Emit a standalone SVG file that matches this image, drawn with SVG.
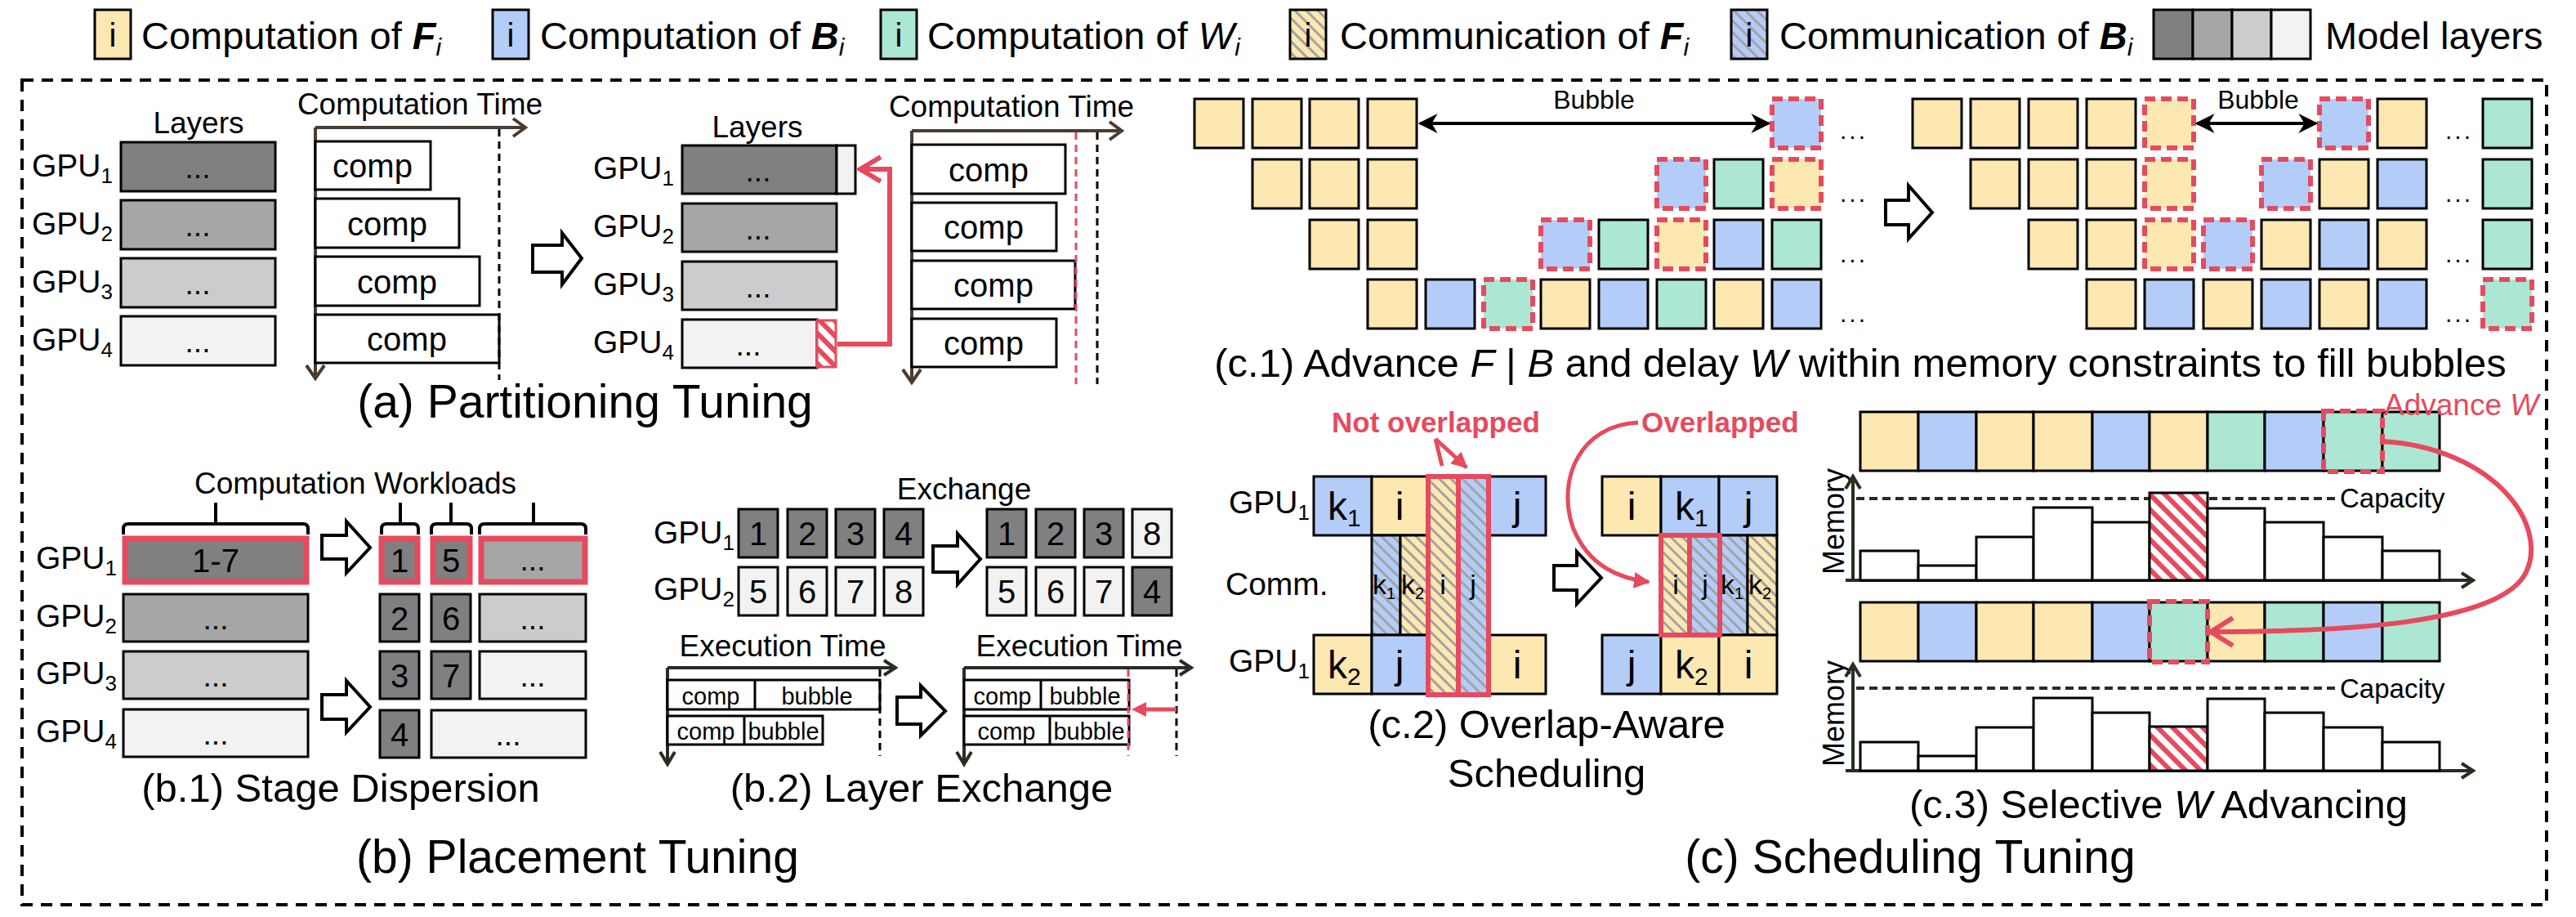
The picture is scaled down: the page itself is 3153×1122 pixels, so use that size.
<svg xmlns="http://www.w3.org/2000/svg" width="3153" height="1122" viewBox="0 0 3153 1122">
<style>
text { font-family: 'Liberation Sans', Arial, sans-serif; fill:#000; }
.lg { font-size:47px; }
.lbl { font-size:39px; }
.sm { font-size:37px; }
.cap { font-size:49px; text-anchor:middle; }
.title { font-size:57px; text-anchor:middle; }
.mid { text-anchor:middle; }
.bx { stroke:#000; stroke-width:3; }
.F { fill:#fde8b1; } .B { fill:#b4cdf8; } .W { fill:#ace7d3; }
.g1 { fill:#808080; } .g2 { fill:#a6a6a6; } .g3 { fill:#cccccc; } .g4 { fill:#f2f2f2; } .wh { fill:#fff; }
.hF { fill:url(#hatchF); } .hB { fill:url(#hatchB); } .hR { fill:url(#hatchR); }
.rd { fill:none; stroke:#e64a5e; stroke-width:6; stroke-dasharray:13 7; }
.rs { fill:none; stroke:#e64a5e; stroke-width:6; }
.ax { fill:none; stroke:#4a3c31; stroke-width:4; }
.ax2 { fill:none; stroke:#262e22; stroke-width:4; }
.dash { fill:none; stroke:#000; stroke-width:3; stroke-dasharray:9 6; }
.rdash { fill:none; stroke:#e64a5e; stroke-width:3; stroke-dasharray:9 6; }
.blk { fill:#fff; stroke:#000; stroke-width:4; }
.red { fill:#e64a5e; }
.dots { font-size:30px; letter-spacing:3px; }
</style>
<defs>
<pattern id="hatchF" width="10" height="10" patternUnits="userSpaceOnUse" patternTransform="rotate(-45)"><rect width="10" height="10" fill="#fde8b1"/><rect width="3" height="10" fill="#a3a3a3"/></pattern>
<pattern id="hatchB" width="10" height="10" patternUnits="userSpaceOnUse" patternTransform="rotate(-45)"><rect width="10" height="10" fill="#b4cdf8"/><rect width="3" height="10" fill="#a3a3a3"/></pattern>
<pattern id="hatchR" width="13" height="13" patternUnits="userSpaceOnUse" patternTransform="rotate(-45)"><rect width="13" height="13" fill="#fff"/><rect width="6" height="13" fill="#e64a5e"/></pattern>
<marker id="ah" viewBox="0 0 10 10" refX="9" refY="5" markerWidth="6" markerHeight="6" orient="auto-start-reverse" markerUnits="strokeWidth"><path d="M0,0 L10,5 L0,10 L3,5 z" fill="#000"/></marker>
<marker id="ahr" viewBox="0 0 10 10" refX="9" refY="5" markerWidth="4" markerHeight="4" orient="auto" markerUnits="strokeWidth"><path d="M0,0 L10,5 L0,10 z" fill="#e64a5e"/></marker>
</defs>

<rect x="27" y="98" width="3090" height="1009" fill="none" stroke="#000" stroke-width="4" stroke-dasharray="14 10"/>

<g id="legend">
<rect class="bx F" x="116" y="12" width="44" height="60"/><text class="mid" x="138" y="57" font-size="40">i</text>
<text class="lg" x="173" y="60">Computation of <tspan font-weight="bold" font-style="italic">F</tspan><tspan font-style="italic" font-size="30" dy="8">i</tspan></text>
<rect class="bx B" x="603" y="12" width="44" height="60"/><text class="mid" x="625" y="57" font-size="40">i</text>
<text class="lg" x="661" y="60">Computation of <tspan font-weight="bold" font-style="italic">B</tspan><tspan font-style="italic" font-size="30" dy="8">i</tspan></text>
<rect class="bx W" x="1078" y="12" width="44" height="60"/><text class="mid" x="1100" y="57" font-size="40">i</text>
<text class="lg" x="1135" y="60">Computation of <tspan font-style="italic">W</tspan><tspan font-style="italic" font-size="30" dy="8">i</tspan></text>
<rect class="bx hF" x="1579" y="12" width="44" height="60"/><text class="mid" x="1601" y="57" font-size="40">i</text>
<text class="lg" x="1640" y="60">Communication of <tspan font-weight="bold" font-style="italic">F</tspan><tspan font-style="italic" font-size="30" dy="8">i</tspan></text>
<rect class="bx hB" x="2119" y="12" width="44" height="60"/><text class="mid" x="2141" y="57" font-size="40">i</text>
<text class="lg" x="2178" y="60">Communication of <tspan font-weight="bold" font-style="italic">B</tspan><tspan font-style="italic" font-size="30" dy="8">i</tspan></text>
<rect class="bx g1" x="2636" y="12" width="48" height="60"/><rect class="bx g2" x="2684" y="12" width="48" height="60"/><rect class="bx g3" x="2732" y="12" width="48" height="60"/><rect class="bx g4" x="2780" y="12" width="48" height="60"/>
<text class="lg" x="2846" y="60">Model layers</text>
</g>

<g id="a-partitioning">
<text class="sm mid" x="243" y="163">Layers</text>
<text class="lbl" x="39" y="216">GPU<tspan font-size="26" dy="8">1</tspan></text>
<text class="lbl" x="39" y="287">GPU<tspan font-size="26" dy="8">2</tspan></text>
<text class="lbl" x="39" y="358">GPU<tspan font-size="26" dy="8">3</tspan></text>
<text class="lbl" x="39" y="429">GPU<tspan font-size="26" dy="8">4</tspan></text>
<rect class="bx g1" x="148" y="174" width="189" height="60"/><rect class="bx g2" x="148" y="245" width="189" height="60"/><rect class="bx g3" x="148" y="316" width="189" height="60"/><rect class="bx g4" x="148" y="387" width="189" height="60"/>
<text class="sm mid" x="242" y="218">...</text><text class="sm mid" x="242" y="289">...</text><text class="sm mid" x="242" y="360">...</text><text class="sm mid" x="242" y="431">...</text>
<text class="sm mid" x="514" y="140">Computation Time</text>
<path class="ax" d="M386 156 H641 M628 145 L643 156 L628 167 M386 156 V461 M375 447 L386 463 L397 447"/>
<rect class="bx wh" x="386" y="173" width="141" height="59"/><text class="mid" font-size="40" x="456" y="217">comp</text>
<rect class="bx wh" x="386" y="243" width="176" height="60"/><text class="mid" font-size="40" x="474" y="288">comp</text>
<rect class="bx wh" x="386" y="314" width="201" height="60"/><text class="mid" font-size="40" x="486" y="359">comp</text>
<rect class="bx wh" x="386" y="385" width="225" height="59"/><text class="mid" font-size="40" x="498" y="429">comp</text>
<path class="dash" d="M611 158 V465"/>
<polygon class="blk" points="652,300 688,300 688,285 712,316 688,348 688,333 652,333"/>
<text class="sm mid" x="927" y="168">Layers</text>
<text class="lbl" x="726" y="219">GPU<tspan font-size="26" dy="8">1</tspan></text>
<text class="lbl" x="726" y="290">GPU<tspan font-size="26" dy="8">2</tspan></text>
<text class="lbl" x="726" y="361">GPU<tspan font-size="26" dy="8">3</tspan></text>
<text class="lbl" x="726" y="432">GPU<tspan font-size="26" dy="8">4</tspan></text>
<rect class="bx g1" x="835" y="178" width="189" height="59"/><rect class="bx g4" x="1024" y="178" width="23" height="59"/>
<rect class="bx g2" x="835" y="249" width="189" height="59"/>
<rect class="bx g3" x="835" y="320" width="189" height="59"/>
<rect class="bx g4" x="835" y="391" width="165" height="59"/>
<rect x="1000" y="392" width="23" height="57" fill="url(#hatchR)" stroke="#e64a5e" stroke-width="3"/>
<text class="sm mid" x="928" y="222">...</text><text class="sm mid" x="928" y="293">...</text><text class="sm mid" x="928" y="364">...</text><text class="sm mid" x="916" y="435">...</text>
<path class="rs" d="M1025 421 H1089 V207 H1054 M1078 192 L1053 207 L1078 222" stroke-width="5"/>
<text class="sm mid" x="1238" y="143">Computation Time</text>
<path class="ax" d="M1116 160 H1371 M1358 149 L1373 160 L1358 171 M1116 160 V466 M1105 452 L1116 468 L1127 452"/>
<rect class="bx wh" x="1116" y="177" width="188" height="60"/><text class="mid" font-size="40" x="1210" y="222">comp</text>
<rect class="bx wh" x="1116" y="248" width="177" height="59"/><text class="mid" font-size="40" x="1204" y="292">comp</text>
<rect class="bx wh" x="1116" y="319" width="200" height="59"/><text class="mid" font-size="40" x="1216" y="363">comp</text>
<rect class="bx wh" x="1116" y="390" width="177" height="59"/><text class="mid" font-size="40" x="1204" y="434">comp</text>
<path class="rdash" d="M1317 162 V470"/>
<path class="dash" d="M1343 162 V470"/>
<text class="title" x="716" y="511">(a) Partitioning Tuning</text>
</g>

<g id="b1-stage-dispersion">
<text class="sm mid" x="435" y="604">Computation Workloads</text>
<path fill="none" stroke="#000" stroke-width="4" d="M151 654 V647 Q151 641 157 641 H371 Q377 641 377 647 V654 M264 641 V615"/>
<path fill="none" stroke="#000" stroke-width="4" d="M467 654 V647 Q467 641 473 641 H506 Q512 641 512 647 V654 M490 641 V615"/>
<path fill="none" stroke="#000" stroke-width="4" d="M528 654 V647 Q528 641 534 641 H571 Q577 641 577 647 V654 M552 641 V615"/>
<path fill="none" stroke="#000" stroke-width="4" d="M587 654 V647 Q587 641 593 641 H711 Q717 641 717 647 V654 M653 641 V615"/>
<text class="lbl" x="44" y="696">GPU<tspan font-size="26" dy="8">1</tspan></text>
<text class="lbl" x="44" y="767">GPU<tspan font-size="26" dy="8">2</tspan></text>
<text class="lbl" x="44" y="837">GPU<tspan font-size="26" dy="8">3</tspan></text>
<text class="lbl" x="44" y="908">GPU<tspan font-size="26" dy="8">4</tspan></text>
<rect class="g1" x="153" y="659" width="222" height="53" stroke="#e64a5e" stroke-width="7"/><text class="mid" font-size="40" x="264" y="700">1-7</text>
<rect class="bx g2" x="151" y="727" width="226" height="58"/><text class="sm mid" x="264" y="770">...</text>
<rect class="bx g3" x="151" y="797" width="226" height="58"/><text class="sm mid" x="264" y="840">...</text>
<rect class="bx g4" x="151" y="868" width="226" height="58"/><text class="sm mid" x="264" y="911">...</text>
<polygon class="blk" points="394,655 424,655 424,638 453,670 424,701 424,684 394,684"/>
<polygon class="blk" points="394,850 424,850 424,833 453,865 424,896 424,880 394,880"/>
<rect class="g1" x="467" y="659" width="44" height="53" stroke="#e64a5e" stroke-width="7"/><text class="mid" font-size="40" x="489" y="700">1</text>
<rect class="g1" x="530" y="659" width="45" height="53" stroke="#e64a5e" stroke-width="7"/><text class="mid" font-size="40" x="552" y="700">5</text>
<rect class="g2" x="589" y="659" width="127" height="53" stroke="#e64a5e" stroke-width="7"/><text class="sm mid" x="652" y="698">...</text>
<rect class="bx g1" x="465" y="727" width="48" height="58"/><text class="mid" font-size="40" x="489" y="771">2</text>
<rect class="bx g1" x="528" y="727" width="48" height="58"/><text class="mid" font-size="40" x="552" y="771">6</text>
<rect class="bx g3" x="587" y="727" width="130" height="58"/><text class="sm mid" x="652" y="770">...</text>
<rect class="bx g1" x="465" y="797" width="48" height="58"/><text class="mid" font-size="40" x="489" y="841">3</text>
<rect class="bx g1" x="528" y="797" width="48" height="58"/><text class="mid" font-size="40" x="552" y="841">7</text>
<rect class="bx g4" x="587" y="797" width="130" height="58"/><text class="sm mid" x="652" y="840">...</text>
<rect class="bx g1" x="465" y="869" width="48" height="58"/><text class="mid" font-size="40" x="489" y="913">4</text>
<rect class="bx g4" x="528" y="869" width="189" height="58"/><text class="sm mid" x="622" y="912">...</text>
<text class="cap" x="417" y="981">(b.1) Stage Dispersion</text>
</g>

<g id="b2-layer-exchange">
<text class="sm mid" x="1180" y="611">Exchange</text>
<text class="lbl" x="800" y="665">GPU<tspan font-size="26" dy="8">1</tspan></text>
<text class="lbl" x="800" y="734">GPU<tspan font-size="26" dy="8">2</tspan></text>
<rect class="bx g1" x="904" y="623" width="48" height="59"/><text class="mid" font-size="40" x="928" y="667">1</text>
<rect class="bx g1" x="964" y="623" width="48" height="59"/><text class="mid" font-size="40" x="988" y="667">2</text>
<rect class="bx g1" x="1023" y="623" width="48" height="59"/><text class="mid" font-size="40" x="1047" y="667">3</text>
<rect class="bx g1" x="1082" y="623" width="48" height="59"/><text class="mid" font-size="40" x="1106" y="667">4</text>
<rect class="bx g4" x="904" y="694" width="48" height="59"/><text class="mid" font-size="40" x="928" y="738">5</text>
<rect class="bx g4" x="964" y="694" width="48" height="59"/><text class="mid" font-size="40" x="988" y="738">6</text>
<rect class="bx g4" x="1023" y="694" width="48" height="59"/><text class="mid" font-size="40" x="1047" y="738">7</text>
<rect class="bx g4" x="1082" y="694" width="48" height="59"/><text class="mid" font-size="40" x="1106" y="738">8</text>
<polygon class="blk" points="1142,668 1172,668 1172,653 1200,684 1172,715 1172,700 1142,700"/>
<rect class="bx g1" x="1208" y="623" width="48" height="59"/><text class="mid" font-size="40" x="1232" y="667">1</text>
<rect class="bx g1" x="1268" y="623" width="48" height="59"/><text class="mid" font-size="40" x="1292" y="667">2</text>
<rect class="bx g1" x="1327" y="623" width="48" height="59"/><text class="mid" font-size="40" x="1351" y="667">3</text>
<rect class="bx g4" x="1386" y="623" width="48" height="59"/><text class="mid" font-size="40" x="1410" y="667">8</text>
<rect class="bx g4" x="1208" y="694" width="48" height="59"/><text class="mid" font-size="40" x="1232" y="738">5</text>
<rect class="bx g4" x="1268" y="694" width="48" height="59"/><text class="mid" font-size="40" x="1292" y="738">6</text>
<rect class="bx g4" x="1327" y="694" width="48" height="59"/><text class="mid" font-size="40" x="1351" y="738">7</text>
<rect class="bx g1" x="1386" y="694" width="48" height="59"/><text class="mid" font-size="40" x="1410" y="738">4</text>
<text class="sm mid" x="958" y="803">Execution Time</text>
<path class="ax2" d="M817 817 H1094 M1082 808 L1096 817 L1082 826 M817 817 V933 M808 920 L817 935 L826 920"/>
<rect class="bx wh" x="817" y="832" width="260" height="36"/><path stroke="#000" stroke-width="3" d="M924 832 V868"/>
<text class="mid" font-size="29" x="870" y="862">comp</text><text class="mid" font-size="29" x="1000" y="862">bubble</text>
<rect class="bx wh" x="817" y="876" width="190" height="35"/><path stroke="#000" stroke-width="3" d="M911 876 V911"/>
<text class="mid" font-size="29" x="864" y="905">comp</text><text class="mid" font-size="29" x="959" y="905">bubble</text>
<path class="dash" d="M1077 819 V925"/>
<polygon class="blk" points="1098,853 1127,853 1127,839 1157,870 1127,900 1127,886 1098,886"/>
<text class="sm mid" x="1321" y="803">Execution Time</text>
<path class="ax2" d="M1180 817 H1456 M1444 808 L1458 817 L1444 826 M1180 817 V933 M1171 920 L1180 935 L1189 920"/>
<rect class="bx wh" x="1180" y="832" width="202" height="36"/><path stroke="#000" stroke-width="3" d="M1274 832 V868"/>
<text class="mid" font-size="29" x="1227" y="862">comp</text><text class="mid" font-size="29" x="1328" y="862">bubble</text>
<rect class="bx wh" x="1180" y="876" width="202" height="35"/><path stroke="#000" stroke-width="3" d="M1285 876 V911"/>
<text class="mid" font-size="29" x="1232" y="905">comp</text><text class="mid" font-size="29" x="1333" y="905">bubble</text>
<path class="rdash" d="M1381 819 V925"/>
<path class="dash" d="M1440 819 V925"/>
<path d="M1440 868 H1398" stroke="#e64a5e" stroke-width="5"/>
<polygon class="red" points="1385,868 1403,859 1403,877"/>
<text class="cap" x="1128" y="981">(b.2) Layer Exchange</text>
</g>

<text class="title" x="707" y="1068">(b) Placement Tuning</text>

<g id="c1-advance">
<g class="bx">
<rect class="F" x="1462" y="121" width="60" height="60"/><rect class="F" x="1533" y="121" width="60" height="60"/><rect class="F" x="1603" y="121" width="60" height="60"/><rect class="F" x="1674" y="121" width="60" height="60"/>
<rect class="F" x="1533" y="195" width="60" height="60"/><rect class="F" x="1603" y="195" width="60" height="60"/><rect class="F" x="1674" y="195" width="60" height="60"/>
<rect class="W" x="2098" y="195" width="60" height="60"/>
<rect class="F" x="1603" y="269" width="60" height="60"/><rect class="F" x="1674" y="269" width="60" height="60"/>
<rect class="W" x="1957" y="269" width="60" height="60"/><rect class="B" x="2098" y="269" width="60" height="60"/><rect class="W" x="2169" y="269" width="60" height="60"/>
<rect class="F" x="1674" y="342" width="60" height="60"/><rect class="B" x="1745" y="342" width="60" height="60"/>
<rect class="F" x="1886" y="342" width="60" height="60"/><rect class="B" x="1957" y="342" width="60" height="60"/><rect class="W" x="2028" y="342" width="60" height="60"/><rect class="F" x="2098" y="342" width="60" height="60"/><rect class="B" x="2169" y="342" width="60" height="60"/>
</g>
<rect class="B" x="2169" y="121" width="60" height="60"/><rect class="rd" x="2169" y="121" width="60" height="60"/>
<rect class="B" x="2028" y="195" width="60" height="60"/><rect class="rd" x="2028" y="195" width="60" height="60"/>
<rect class="F" x="2169" y="195" width="60" height="60"/><rect class="rd" x="2169" y="195" width="60" height="60"/>
<rect class="B" x="1886" y="269" width="60" height="60"/><rect class="rd" x="1886" y="269" width="60" height="60"/>
<rect class="F" x="2028" y="269" width="60" height="60"/><rect class="rd" x="2028" y="269" width="60" height="60"/>
<rect class="W" x="1816" y="342" width="60" height="60"/><rect class="rd" x="1816" y="342" width="60" height="60"/>
<path d="M1738 151 H2165" stroke="#000" stroke-width="4" marker-start="url(#ah)" marker-end="url(#ah)"/>
<text class="mid" font-size="32" x="1951" y="133">Bubble</text>
<text class="dots" x="2252" y="170">...</text><text class="dots" x="2252" y="247">...</text><text class="dots" x="2252" y="321">...</text><text class="dots" x="2252" y="394">...</text>
<polygon class="blk" points="2308,245 2336,245 2336,227 2365,260 2336,292 2336,275 2308,275"/>
<g class="bx">
<rect class="F" x="2341" y="121" width="60" height="60"/><rect class="F" x="2412" y="121" width="60" height="60"/><rect class="F" x="2483" y="121" width="60" height="60"/><rect class="F" x="2554" y="121" width="60" height="60"/>
<rect class="F" x="2910" y="121" width="60" height="60"/><rect class="W" x="3039" y="121" width="60" height="60"/>
<rect class="F" x="2412" y="195" width="60" height="60"/><rect class="F" x="2483" y="195" width="60" height="60"/><rect class="F" x="2554" y="195" width="60" height="60"/>
<rect class="F" x="2839" y="195" width="60" height="60"/><rect class="B" x="2910" y="195" width="60" height="60"/><rect class="W" x="3039" y="195" width="60" height="60"/>
<rect class="F" x="2483" y="269" width="60" height="60"/><rect class="F" x="2554" y="269" width="60" height="60"/>
<rect class="F" x="2768" y="269" width="60" height="60"/><rect class="B" x="2839" y="269" width="60" height="60"/><rect class="F" x="2910" y="269" width="60" height="60"/><rect class="W" x="3039" y="269" width="60" height="60"/>
<rect class="F" x="2554" y="342" width="60" height="60"/><rect class="B" x="2625" y="342" width="60" height="60"/><rect class="F" x="2697" y="342" width="60" height="60"/><rect class="B" x="2768" y="342" width="60" height="60"/><rect class="F" x="2839" y="342" width="60" height="60"/><rect class="B" x="2910" y="342" width="60" height="60"/>
</g>
<rect class="F" x="2625" y="121" width="60" height="60"/><rect class="rd" x="2625" y="121" width="60" height="60"/>
<rect class="B" x="2839" y="121" width="60" height="60"/><rect class="rd" x="2839" y="121" width="60" height="60"/>
<rect class="F" x="2625" y="195" width="60" height="60"/><rect class="rd" x="2625" y="195" width="60" height="60"/>
<rect class="B" x="2768" y="195" width="60" height="60"/><rect class="rd" x="2768" y="195" width="60" height="60"/>
<rect class="F" x="2625" y="269" width="60" height="60"/><rect class="rd" x="2625" y="269" width="60" height="60"/>
<rect class="B" x="2697" y="269" width="60" height="60"/><rect class="rd" x="2697" y="269" width="60" height="60"/>
<rect class="W" x="3039" y="342" width="60" height="60"/><rect class="rd" x="3039" y="342" width="60" height="60"/>
<path d="M2689 151 H2835" stroke="#000" stroke-width="4" marker-start="url(#ah)" marker-end="url(#ah)"/>
<text class="mid" font-size="32" x="2764" y="133">Bubble</text>
<text class="dots" x="2993" y="170">...</text><text class="dots" x="2993" y="247">...</text><text class="dots" x="2993" y="321">...</text><text class="dots" x="2993" y="394">...</text>
<text class="cap" x="2277" y="461">(c.1) Advance <tspan font-style="italic">F</tspan> | <tspan font-style="italic">B</tspan> and delay <tspan font-style="italic">W</tspan> within memory constraints to fill bubbles</text>
</g>

<g id="c2-overlap">
<text font-size="35" font-weight="bold" style="fill:#e64a5e" x="1630" y="529">Not overlapped</text>
<path d="M1757 537 L1765 570 M1757 537 L1795 572" stroke="#e64a5e" stroke-width="5" marker-end="url(#ahr)"/>
<text font-size="35" font-weight="bold" style="fill:#e64a5e" x="2009" y="529">Overlapped</text>
<path d="M2005 517 C1935 520, 1905 585, 1925 645 C1945 695, 1985 708, 2018 712" fill="none" stroke="#e64a5e" stroke-width="5" marker-end="url(#ahr)"/>
<text class="lbl" x="1504" y="628">GPU<tspan font-size="26" dy="8">1</tspan></text>
<text class="lbl" x="1500" y="728">Comm.</text>
<text class="lbl" x="1504" y="822">GPU<tspan font-size="26" dy="8">1</tspan></text>
<g class="bx">
<rect class="B" x="1608" y="583" width="71" height="72"/><rect class="F" x="1679" y="583" width="69" height="72"/><rect class="B" x="1822" y="583" width="70" height="72"/>
<rect class="hB" x="1679" y="655" width="35" height="122"/><rect class="hF" x="1714" y="655" width="34" height="122"/>
<rect class="F" x="1608" y="777" width="71" height="72"/><rect class="B" x="1679" y="777" width="69" height="72"/><rect class="F" x="1822" y="777" width="70" height="72"/>
</g>
<rect class="hF" x="1748" y="583" width="37" height="267"/><rect class="hB" x="1785" y="583" width="37" height="267"/>
<rect class="rs" x="1748" y="583" width="37" height="267"/><rect class="rs" x="1785" y="583" width="37" height="267"/>
<text font-size="48" x="1625" y="636">k<tspan font-size="30" dy="8">1</tspan></text>
<text class="mid" font-size="48" x="1713" y="636">i</text>
<text class="mid" font-size="48" x="1857" y="636">j</text>
<text font-size="48" x="1625" y="830">k<tspan font-size="30" dy="8">2</tspan></text>
<text class="mid" font-size="48" x="1713" y="830">j</text>
<text class="mid" font-size="48" x="1857" y="830">i</text>
<text font-size="34" x="1680" y="727">k<tspan font-size="20" dy="6">1</tspan></text>
<text font-size="34" x="1715" y="727">k<tspan font-size="20" dy="6">2</tspan></text>
<text class="mid" font-size="34" x="1766" y="727">i</text>
<text class="mid" font-size="34" x="1803" y="727">j</text>
<polygon class="blk" points="1902,692 1930,692 1930,675 1960,707 1930,739 1930,722 1902,722"/>
<g class="bx">
<rect class="F" x="1961" y="583" width="72" height="72"/><rect class="B" x="2033" y="583" width="71" height="72"/><rect class="B" x="2104" y="583" width="71" height="72"/>
<rect class="hB" x="2105" y="655" width="34" height="122"/><rect class="hF" x="2139" y="655" width="36" height="122"/>
<rect class="B" x="1961" y="777" width="72" height="72"/><rect class="F" x="2033" y="777" width="71" height="72"/><rect class="F" x="2104" y="777" width="71" height="72"/>
</g>
<rect class="hF" x="2033" y="655" width="35" height="122"/><rect class="hB" x="2068" y="655" width="37" height="122"/>
<rect class="rs" x="2033" y="655" width="35" height="122"/><rect class="rs" x="2068" y="655" width="37" height="122"/>
<text class="mid" font-size="48" x="1997" y="636">i</text>
<text font-size="48" x="2050" y="636">k<tspan font-size="30" dy="8">1</tspan></text>
<text class="mid" font-size="48" x="2140" y="636">j</text>
<text class="mid" font-size="48" x="1997" y="830">j</text>
<text font-size="48" x="2050" y="830">k<tspan font-size="30" dy="8">2</tspan></text>
<text class="mid" font-size="48" x="2140" y="830">i</text>
<text class="mid" font-size="34" x="2051" y="727">i</text>
<text class="mid" font-size="34" x="2087" y="727">j</text>
<text font-size="34" x="2106" y="727">k<tspan font-size="20" dy="6">1</tspan></text>
<text font-size="34" x="2140" y="727">k<tspan font-size="20" dy="6">2</tspan></text>
<text class="cap" x="1893" y="903">(c.2) Overlap-Aware</text>
<text class="cap" x="1893" y="963">Scheduling</text>
</g>

<g id="c3-selective">
<g class="bx">
<rect class="F" x="2277" y="504" width="71" height="72"/><rect class="B" x="2348" y="504" width="71" height="72"/><rect class="F" x="2419" y="504" width="70" height="72"/><rect class="F" x="2489" y="504" width="72" height="72"/><rect class="B" x="2561" y="504" width="70" height="72"/><rect class="F" x="2631" y="504" width="71" height="72"/><rect class="W" x="2702" y="504" width="70" height="72"/><rect class="B" x="2772" y="504" width="72" height="72"/><rect class="W" x="2844" y="504" width="72" height="72"/><rect class="W" x="2916" y="504" width="70" height="72"/>
</g>
<rect class="rd" x="2844" y="503" width="72" height="74"/>
<text font-size="37" style="fill:#e64a5e" x="2918" y="508">Advance <tspan font-style="italic">W</tspan></text>
<text class="mid" font-size="36" transform="translate(2257 638) rotate(-90)">Memory</text>
<path class="ax2" d="M2268 710 V585 M2259 598 L2268 583 L2277 598 M2259 710 H3025 M3013 701 L3027 710 L3013 719"/>
<path class="ax2" stroke-dasharray="10 6" d="M2272 610 H2860"/>
<text font-size="33" x="2864" y="621">Capacity</text>
<g class="bx">
<rect class="wh" x="2277" y="674" width="71" height="36"/><rect class="wh" x="2348" y="692" width="71" height="18"/><rect class="wh" x="2419" y="657" width="70" height="53"/><rect class="wh" x="2489" y="621" width="72" height="89"/><rect class="wh" x="2561" y="639" width="70" height="71"/><rect class="hR" x="2631" y="603" width="71" height="107"/><rect class="wh" x="2702" y="622" width="70" height="88"/><rect class="wh" x="2772" y="639" width="72" height="71"/><rect class="wh" x="2844" y="657" width="72" height="53"/><rect class="wh" x="2916" y="674" width="70" height="36"/>
</g>
<g class="bx">
<rect class="F" x="2277" y="737" width="71" height="72"/><rect class="B" x="2348" y="737" width="71" height="72"/><rect class="F" x="2419" y="737" width="70" height="72"/><rect class="F" x="2489" y="737" width="72" height="72"/><rect class="B" x="2561" y="737" width="70" height="72"/><rect class="W" x="2631" y="737" width="71" height="72"/><rect class="F" x="2702" y="737" width="70" height="72"/><rect class="W" x="2772" y="737" width="72" height="72"/><rect class="B" x="2844" y="737" width="72" height="72"/><rect class="W" x="2916" y="737" width="70" height="72"/>
</g>
<rect class="rd" x="2631" y="736" width="71" height="74"/>
<text class="mid" font-size="36" transform="translate(2257 873) rotate(-90)">Memory</text>
<path class="ax2" d="M2268 943 V815 M2259 828 L2268 813 L2277 828 M2259 943 H3025 M3013 934 L3027 943 L3013 952"/>
<path class="ax2" stroke-dasharray="10 6" d="M2272 842 H2860"/>
<text font-size="33" x="2864" y="854">Capacity</text>
<g class="bx">
<rect class="wh" x="2277" y="908" width="71" height="35"/><rect class="wh" x="2348" y="925" width="71" height="18"/><rect class="wh" x="2419" y="890" width="70" height="53"/><rect class="wh" x="2489" y="854" width="72" height="89"/><rect class="wh" x="2561" y="872" width="70" height="71"/><rect class="hR" x="2631" y="889" width="71" height="54"/><rect class="wh" x="2702" y="855" width="70" height="88"/><rect class="wh" x="2772" y="872" width="72" height="71"/><rect class="wh" x="2844" y="890" width="72" height="53"/><rect class="wh" x="2916" y="908" width="70" height="35"/>
</g>
<path class="rs" stroke-width="5" d="M2916 540 C3050 548, 3120 640, 3092 700 C3060 765, 2860 773, 2708 773 M2733 756 L2706 773 L2733 790"/>
<text class="cap" x="2642" y="1001">(c.3) Selective <tspan font-style="italic">W</tspan> Advancing</text>
</g>

<text class="title" x="2338" y="1068">(c) Scheduling Tuning</text>
</svg>
